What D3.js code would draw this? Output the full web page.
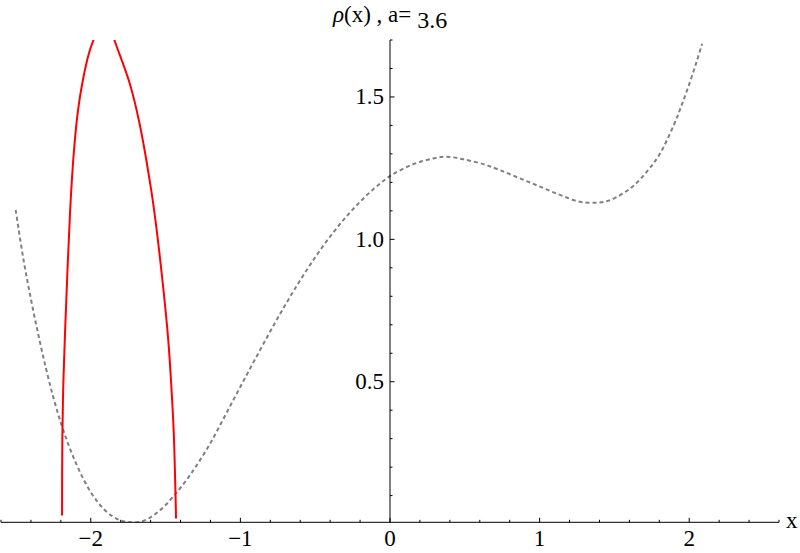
<!DOCTYPE html>
<html><head><meta charset="utf-8">
<script src="https://cdn.jsdelivr.net/npm/d3@7"></script>
<style>
body{margin:0;background:#fff;}
svg{display:block;}
text{font-family:"Liberation Serif","Times New Roman",serif;}
</style></head>
<body>
<script>
// Gray dashed curve
const grayX = [-2.502,-2.45,-2.40,-2.35,-2.30,-2.25,-2.20,-2.15,-2.10,-2.05,-2.00,-1.95,-1.90,-1.85,-1.80,-1.75,-1.70,-1.65,-1.60,-1.55,-1.50,-1.45,-1.40,-1.35,-1.30,-1.20,-1.10,-1.00,-0.90,-0.80,-0.70,-0.60,-0.50,-0.40,-0.30,-0.20,-0.10,0.00,0.156,0.289,0.379,0.490,0.624,0.735,0.869,1.003,1.136,1.270,1.392,1.482,1.618,1.725,1.80,1.90,1.95,2.00,2.05,2.086];
const grayY = [1.103,0.930,0.790,0.664,0.548,0.445,0.356,0.280,0.215,0.159,0.112,0.075,0.046,0.026,0.013,0.007,0.006,0.011,0.024,0.043,0.067,0.096,0.128,0.162,0.200,0.285,0.383,0.4825,0.5805,0.677,0.7695,0.8565,0.937,1.010,1.075,1.132,1.181,1.222,1.264,1.284,1.290,1.281,1.264,1.243,1.214,1.185,1.156,1.132,1.129,1.140,1.184,1.243,1.297,1.405,1.472,1.545,1.625,1.687];
// Red curve (peak is clipped at the top of the plot)
const redX = [-2.192,-2.190,-2.183,-2.170,-2.155,-2.138,-2.114,-2.086,-2.056,-2.014,-1.982,-1.95,-1.91,-1.87,-1.838,-1.740,-1.674,-1.596,-1.565,-1.514,-1.482,-1.464,-1.446,-1.436,-1.430];
const redY = [0.030,0.30,0.50,0.70,0.90,1.10,1.30,1.45,1.55,1.65,1.70,1.74,1.764,1.745,1.694,1.548,1.407,1.173,1.056,0.822,0.646,0.506,0.330,0.155,0.020];
const xMajor = [-2,-1,0,1,2];
const xTickLabels = ["\u22122","\u22121","0","1","2"];
const yMajor = [0.5,1.0,1.5];
const yTickLabels = ["0.5","1.0","1.5"];
const titleMain = "(x) , a=";
const titleSym = "\u03C1";
const titleVal = "3.6";

const W=800,H=553;
const svg=d3.select("body").append("svg").attr("width",W).attr("height",H);
const x=d3.scaleLinear().domain([-2.6,2.6]).range([1,779]);
const y=d3.scaleLinear().domain([0.0063,1.7]).range([522.3,40]);

svg.append("defs").append("clipPath").attr("id","clip")
  .append("rect").attr("x",x(-2.6)).attr("y",y(1.7)).attr("width",x(2.6)-x(-2.6)).attr("height",y(0.0063)-y(1.7));

const line=d3.line().x(d=>x(d[0])).y(d=>y(d[1])).curve(d3.curveCatmullRom.alpha(0.5));

const g=svg.append("g").attr("clip-path","url(#clip)");
g.append("path").datum(grayX.map((v,i)=>[v,grayY[i]]))
  .attr("d",line).attr("fill","none").attr("stroke","#808080")
  .attr("stroke-width",2).attr("stroke-dasharray","4,3");
g.append("path").datum(redX.map((v,i)=>[v,redY[i]]))
  .attr("d",line).attr("fill","none").attr("stroke","#ff0000")
  .attr("stroke-width",2);

// X axis
const y0=y(0.0063);
svg.append("line").attr("x1",x(-2.6)).attr("x2",x(2.6)).attr("y1",y0).attr("y2",y0).attr("stroke","#000").attr("stroke-width",1);
const xMinor=d3.range(-13,14).map(k=>k*0.2);
svg.selectAll(".xmt").data(xMinor).enter().append("line")
  .attr("x1",d=>x(d)).attr("x2",d=>x(d)).attr("y1",y0).attr("y2",d=>Math.abs(d-Math.round(d))<1e-6?y0-4.5:y0-2.5)
  .attr("stroke","#000").attr("stroke-width",1);
svg.selectAll(".xl").data(xMajor).enter().append("text")
  .attr("x",d=>x(d)).attr("y",546).attr("text-anchor","middle").attr("font-size",23)
  .text((d,i)=>xTickLabels[i]);
svg.append("text").attr("x",786).attr("y",528).attr("font-size",23).text("x");

// Y axis
const x0=x(0);
svg.append("line").attr("x1",x0).attr("x2",x0).attr("y1",y(0.0063)).attr("y2",y(1.7)).attr("stroke","#000").attr("stroke-width",1);
const yMinor=d3.range(1,18).map(k=>k*0.1);
svg.selectAll(".ymt").data(yMinor).enter().append("line")
  .attr("x1",x0).attr("x2",(d,i)=>((i+1)%5===0)?x0+4.5:x0+2.5).attr("y1",d=>y(d)).attr("y2",d=>y(d))
  .attr("stroke","#000").attr("stroke-width",1);
svg.selectAll(".yl").data(yMajor).enter().append("text")
  .attr("x",x0-6).attr("y",d=>y(d)+7.5).attr("text-anchor","end").attr("font-size",23)
  .text((d,i)=>yTickLabels[i]);

// Title
const t=svg.append("text").attr("x",333).attr("y",22).attr("font-size",23);
t.append("tspan").attr("font-style","italic").text(titleSym);
t.append("tspan").text(titleMain);
t.append("tspan").attr("dx",6).attr("dy",6).attr("font-size",24).text(titleVal);
</script>
</body></html>
